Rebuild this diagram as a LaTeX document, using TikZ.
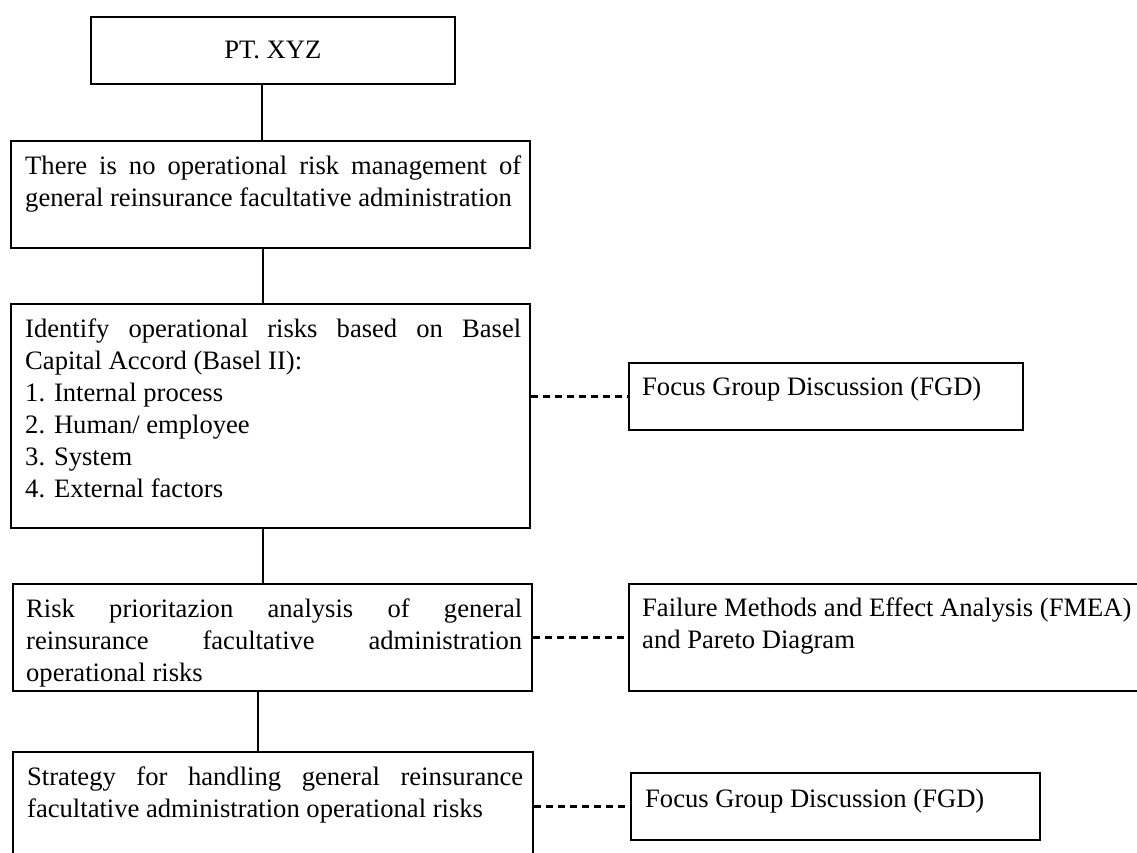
\documentclass[tikz,border=0pt]{standalone}
\usepackage{fontspec}
\setmainfont{Liberation Serif}
\newlength\tw \setlength\tw{496pt}
\newcommand\jl[1]{\makebox[\tw][s]{#1}}
\begin{document}
\begin{tikzpicture}[x=1pt,y=-1pt,
  box/.style={draw,line width=1.8pt,rectangle,inner sep=0pt,anchor=north west,font=\fontsize{26.6}{32}\selectfont},
  txt/.style={anchor=north west,inner sep=0pt,align=left,font=\fontsize{26.6}{32}\selectfont},
  link/.style={line width=2.2pt},
  dlink/.style={line width=2.2pt,dash pattern=on 7pt off 5pt}]
\useasboundingbox (0,0) rectangle (1137,852);
% boxes
\node[box,minimum width=364pt,minimum height=67pt] (b1) at (90,16) {PT. XYZ};
\node[box,minimum width=519pt,minimum height=107pt] (b2) at (10,140) {};
\node[box,minimum width=519pt,minimum height=224pt] (b3) at (10,303) {};
\node[box,minimum width=519pt,minimum height=107pt] (b4) at (12,583) {};
\node[box,minimum width=520pt,minimum height=115pt] (b5) at (12,751) {};
\node[box,minimum width=394pt,minimum height=67pt] (f1) at (628,362) {};
\node[box,minimum width=520pt,minimum height=107pt] (f2) at (628,583) {};
\node[box,minimum width=409pt,minimum height=67pt] (f3) at (630,772) {};
% texts
\node[txt] (t2) at (25,151.6) {\strut\jl{There is no operational risk management of}\\general reinsurance facultative administration};
\node[txt] (t3) at (25,314.6) {\strut\jl{Identify operational risks based on Basel}\\Capital Accord (Basel II):\\1. Internal process\\2. Human/ employee\\3. System\\4. External factors};
\node[txt] (t4) at (26,594.6) {\strut\jl{Risk prioritazion analysis of general}\\\jl{reinsurance facultative administration}\\operational risks};
\node[txt] (t5) at (27,762.6) {\strut\jl{Strategy for handling general reinsurance}\\facultative administration operational risks};
\node[txt] (u1) at (642,372.6) {\strut Focus Group Discussion (FGD)};
\node[txt] (u2) at (642,593.6) {\strut Failure Methods and Effect Analysis (FMEA)\\and Pareto Diagram};
\node[txt] (u3) at (645,784.6) {\strut Focus Group Discussion (FGD)};
% vertical connectors
\coordinate (x1) at (262,0);
\coordinate (x2) at (263,0);
\coordinate (x3) at (263,0);
\coordinate (x4) at (258,0);
\draw[link] (b1.south -| x1) -- (b2.north -| x1);
\draw[link] (b2.south -| x2) -- (b3.north -| x2);
\draw[link] (b3.south -| x3) -- (b4.north -| x3);
\draw[link] (b4.south -| x4) -- (b5.north -| x4);
% dashed connectors
\draw[dlink] (f1.west -| b3.east) -- (f1.west);
\draw[dlink] (f2.west -| b4.east) -- (f2.west);
\draw[dlink] (f3.west -| b5.east) -- (f3.west);
\end{tikzpicture}
\end{document}
